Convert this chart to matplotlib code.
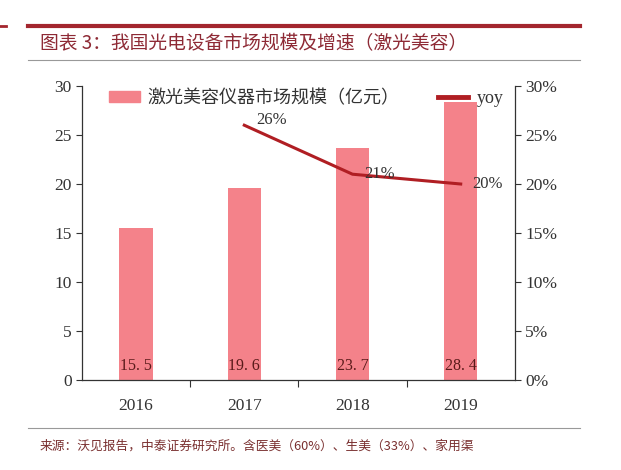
import matplotlib.pyplot as plt
from matplotlib.lines import Line2D
from matplotlib.patches import Patch

years = ['2016', '2017', '2018', '2019']
market = [15.5, 19.6, 23.7, 28.4]
yoy_years = ['2017', '2018', '2019']
yoy = [0.26, 0.21, 0.20]

bar_color = '#F4828A'
line_color = '#B01E23'
title_color = '#8E2A35'
cjk = ['Noto Sans CJK SC', 'DejaVu Sans']
serif = 'Liberation Serif'

fig = plt.figure(figsize=(6.21, 4.70), dpi=100)
ax = fig.add_axes([0.132, 0.1915, 0.697, 0.6255])

x = list(range(len(years)))
ax.bar(x, market, width=0.31, color=bar_color, zorder=2)
ax.set_xlim(-0.5, len(years) - 0.5)
ax.set_ylim(0, 30)
ax.set_yticks(range(0, 31, 5))
ax.set_xticks([i + 0.5 for i in x[:-1]])
ax.set_xticklabels([])
ax.tick_params(axis='x', direction='out', length=5, width=0.8, colors='#333333')
ax.tick_params(axis='y', direction='out', length=4, width=0.8, colors='#333333',
               labelsize=12.5)
for lab in ax.get_yticklabels():
    lab.set_fontfamily(serif)
for i, yr in enumerate(years):
    ax.text(i, -1.8, yr, ha='center', va='top', fontsize=12.5, family=serif,
            color='#333333')
for i, v in enumerate(market):
    ax.text(i, 1.4, f'{v:.1f}'.replace('.', '. '), ha='center', va='center',
            fontsize=11.5, family=serif, color='#5A1A1A', zorder=3)

ax.spines['top'].set_visible(False)
ax.spines['right'].set_visible(False)
for s in ['left', 'bottom']:
    ax.spines[s].set_color('#333333')
    ax.spines[s].set_linewidth(0.9)

ax2 = ax.twinx()
xi = [years.index(y) for y in yoy_years]
ax2.plot(xi, yoy, color=line_color, lw=2.2, zorder=4)
ax2.set_ylim(0, 0.30)
ax2.set_yticks([i / 100 for i in range(0, 31, 5)])
ax2.set_yticklabels([f'{i}%' for i in range(0, 31, 5)])
ax2.tick_params(axis='y', direction='out', length=4, width=0.8, colors='#333333',
                labelsize=12.5)
for lab in ax2.get_yticklabels():
    lab.set_fontfamily(serif)
ax2.spines['top'].set_visible(False)
ax2.spines['left'].set_visible(False)
ax2.spines['bottom'].set_visible(False)
ax2.spines['right'].set_color('#333333')
ax2.spines['right'].set_linewidth(0.9)
offsets = [0.005, 0.0, 0.0]
for xv, v, dy in zip(xi, yoy, offsets):
    ax2.text(xv + 0.25, v + dy, f'{round(v * 100)}%', ha='center', va='center',
             fontsize=12, family=serif, color='#333333', zorder=5)

handles = [Patch(color=bar_color), Line2D([0], [0], color=line_color, lw=3.5)]
leg = ax.legend(handles, ['激光美容仪器市场规模（亿元）', 'yoy'], loc='upper left',
                bbox_to_anchor=(0.025, 1.045), ncol=2, frameon=False,
                columnspacing=2.1, handlelength=1.7, handleheight=0.6,
                handletextpad=0.45, prop={'family': cjk, 'size': 13})
for t in leg.get_texts():
    t.set_color('#333333')
leg.get_texts()[1].set_fontfamily(serif)
leg.set_zorder(6)

# header / footer decoration
fig.add_artist(Line2D([28 / 621, 580 / 621], [1 - 26 / 470] * 2, color='#A3262E', lw=3))
fig.add_artist(Line2D([0, 6 / 621], [1 - 26 / 470] * 2, color='#A3262E', lw=2))
fig.add_artist(Line2D([28 / 621, 580 / 621], [1 - 60 / 470] * 2, color='#999999', lw=0.8))
fig.add_artist(Line2D([28 / 621, 580 / 621], [1 - 428 / 470] * 2, color='#999999', lw=0.8))
fig.text(40 / 621, 1 - 44 / 470, '图表 3：我国光电设备市场规模及增速（激光美容）',
         family=cjk, fontsize=13.5, color=title_color, va='center', ha='left',
         style='italic')
fig.text(40 / 621, 1 - 446 / 470,
         '来源：沃见报告，中泰证券研究所。含医美（60%）、生美（33%）、家用渠',
         family=cjk, fontsize=9.2, color='#7A3030', va='center', ha='left')

fig.savefig('out.png', dpi=100)
